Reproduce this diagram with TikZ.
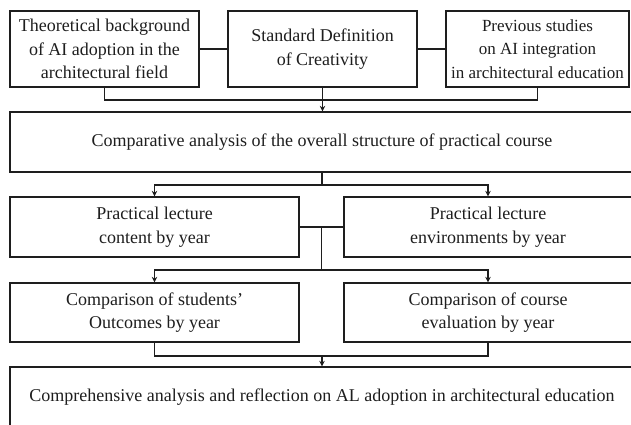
\documentclass[tikz,border=0pt]{standalone}
\usepackage{fontspec}
\setmainfont{Liberation Serif}
\usetikzlibrary{arrows.meta,calc}
\definecolor{ink}{HTML}{1E1E1E}
\begin{document}
\begin{tikzpicture}[x=1pt,y=-1pt,
  box/.style={draw=ink, line width=1.3pt, fill=white, text=ink, align=center,
    inner sep=0pt, font=\fontsize{18}{23.5}\selectfont},
  conn/.style={draw=ink, line width=1.9pt},
  arr/.style={conn, -{Stealth[length=5.5pt,width=5.5pt]}}]
\useasboundingbox (0,0) rectangle (631,425);
\clip (0,0) rectangle (631,425);

% top row
\node[box, minimum width=189pt, minimum height=76pt] (b1) at (104.5,49)
  {Theoretical background\\of AI adoption in the\\architectural field};
\node[box, minimum width=189pt, minimum height=76pt] (b2) at (322.5,49)
  {Standard Definition\\of Creativity};
\node[box, minimum width=183pt, minimum height=76pt,
  font=\fontsize{17}{23.5}\selectfont] (b3) at (537.5,49)
  {Previous studies\\on AI integration\\in architectural education};

% comparative analysis
\node[box, minimum width=624pt, minimum height=60pt] (comp) at (322,142)
  {Comparative analysis of the overall structure of practical course};

% second row
\node[box, minimum width=289pt, minimum height=60pt] (lt) at (154.5,227)
  {Practical lecture\\content by year};
\node[box, minimum width=288pt, minimum height=60pt] (rt) at (488,227)
  {Practical lecture\\environments by year};

% third row
\node[box, minimum width=289pt, minimum height=59pt] (lb) at (154.5,312.5)
  {Comparison of students'\\Outcomes by year};
\node[box, minimum width=288pt, minimum height=59pt] (rb) at (488,312.5)
  {Comparison of course\\evaluation by year};

% final box
\node[box, minimum width=624pt, minimum height=60pt] (last) at (322,397)
  {Comprehensive analysis and reflection on AL adoption in architectural education};

% connectors: top row
\draw[conn] (b1.east) -- (b2.west);
\draw[conn] (b2.east) -- (b3.west);
\draw[conn] (b1.south) -- ++(0,12) -| (b3.south);
\draw[arr] (b2.south) -- (b2.south |- comp.north);

% connectors: comparative analysis to second row
\draw[conn] (comp.south) -- ++(0,12) coordinate (s1);
\draw[arr] (s1) -| (lt.north);
\draw[arr] (s1) -| (rt.north);

% connectors: second row to third row
\draw[conn] (lt.east) -- (rt.west);
\coordinate (m2) at ($(lt.east)!0.5!(rt.west)$);
\draw[conn] (m2) -- ++(0,43) coordinate (s2);
\draw[arr] (s2) -| (lb.north);
\draw[arr] (s2) -| (rb.north);

% connectors: third row to final box
\draw[conn] (lb.south) -- ++(0,13) coordinate (j3) -| (rb.south);
\draw[arr] (j3 -| last.north) -- (last.north);
\end{tikzpicture}
\end{document}
